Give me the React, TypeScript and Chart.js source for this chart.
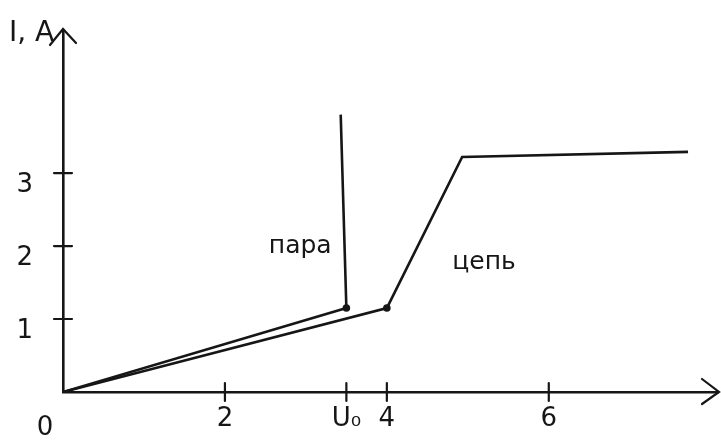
import React, { useEffect, useRef } from "react";
import { Chart, registerables } from "chart.js";

Chart.register(...registerables);

// Voltage axis (U) ticks and their labels
const xTickValues = [0, 2, 3.5, 4, 6];
const xTickLabels = ["", "2", "U₀", "4", "6"];
// Current axis (I, A) ticks
const yTickValues = [1, 2, 3];
const yTickLabels = ["1", "2", "3"];

// "пара" curve: (U, I) points
const paraU = [0, 3.5, 3.43];
const paraI = [0, 1.15, 3.8];
// "цепь" curve: (U, I) points
const chainU = [0, 4.0, 4.93, 7.72];
const chainI = [0, 1.15, 3.22, 3.29];

// Curve captions and where they sit (data coordinates)
const captions = [
  { text: "пара", u: 2.93, i: 2.0 },
  { text: "цепь", u: 5.2, i: 1.78 },
];

const INK = "#161616";
const FONT = "'DejaVu Sans', sans-serif";

const sketchPlugin = {
  id: "sketchAxes",
  afterDraw(chart: any) {
    const { ctx, chartArea } = chart;
    const xs = chart.scales.x;
    const ys = chart.scales.y;
    const x0 = xs.getPixelForValue(0);
    const y0 = ys.getPixelForValue(0);
    ctx.save();
    ctx.strokeStyle = INK;
    ctx.lineWidth = 2.2;
    ctx.lineCap = "round";
    // crossing tick marks
    xTickValues.forEach((v) => {
      if (v === 0) return;
      const px = xs.getPixelForValue(v);
      ctx.beginPath();
      ctx.moveTo(px, y0 - 9);
      ctx.lineTo(px, y0 + 9);
      ctx.stroke();
    });
    yTickValues.forEach((v) => {
      const py = ys.getPixelForValue(v);
      ctx.beginPath();
      ctx.moveTo(x0 - 9, py);
      ctx.lineTo(x0 + 9, py);
      ctx.stroke();
    });
    // arrow heads
    const top = chartArea.top;
    ctx.beginPath();
    ctx.moveTo(x0 - 13, top + 15);
    ctx.lineTo(x0, top - 1);
    ctx.lineTo(x0 + 13, top + 13);
    ctx.stroke();
    const right = chartArea.right;
    ctx.beginPath();
    ctx.moveTo(right - 16, y0 - 13);
    ctx.lineTo(right + 1, y0);
    ctx.lineTo(right - 16, y0 + 12);
    ctx.stroke();
    // axis title and origin label
    ctx.fillStyle = INK;
    ctx.font = `28px ${FONT}`;
    ctx.textAlign = "left";
    ctx.textBaseline = "middle";
    ctx.fillText("I, A", x0 - 54, top + 4);
    ctx.font = `26px ${FONT}`;
    ctx.textAlign = "center";
    ctx.fillText("0", x0 - 18, y0 + 36);
    // curve captions
    ctx.font = `25px ${FONT}`;
    captions.forEach((c) => {
      ctx.fillText(c.text, xs.getPixelForValue(c.u), ys.getPixelForValue(c.i));
    });
    ctx.restore();
  },
};

export default function App() {
  const ref = useRef<HTMLCanvasElement | null>(null);

  useEffect(() => {
    if (!ref.current) return;
    const chart = new Chart(ref.current, {
      type: "scatter",
      data: {
        datasets: [
          {
            label: "пара",
            data: paraU.map((u, k) => ({ x: u, y: paraI[k] })),
            showLine: true,
            borderColor: INK,
            backgroundColor: INK,
            borderWidth: 2.6,
            pointRadius: [0, 2.5, 0],
            tension: 0,
          },
          {
            label: "цепь",
            data: chainU.map((u, k) => ({ x: u, y: chainI[k] })),
            showLine: true,
            borderColor: INK,
            backgroundColor: INK,
            borderWidth: 2.6,
            pointRadius: [0, 2.5, 0, 0],
            tension: 0,
          },
        ],
      },
      plugins: [sketchPlugin],
      options: {
        responsive: false,
        animation: false,
        layout: { padding: { top: 30, right: 3, left: 0, bottom: 0 } },
        plugins: { legend: { display: false }, tooltip: { enabled: false } },
        scales: {
          x: {
            type: "linear",
            min: 0,
            max: 8.09,
            grid: { display: false, drawTicks: false },
            border: { display: true, color: INK, width: 2.6 },
            afterBuildTicks: (scale: any) => {
              scale.ticks = xTickValues.map((v) => ({ value: v }));
            },
            afterFit: (scale: any) => {
              scale.height = 49;
              scale.paddingLeft = 0;
              scale.paddingRight = 0;
            },
            ticks: {
              padding: 12,
              color: INK,
              font: { family: FONT, size: 26 },
              maxRotation: 0,
              autoSkip: false,
              callback: (_v: any, i: number) => xTickLabels[i],
            },
          },
          y: {
            type: "linear",
            min: 0,
            max: 4.96,
            grid: { display: false, drawTicks: false },
            border: { display: true, color: INK, width: 2.6 },
            afterBuildTicks: (scale: any) => {
              scale.ticks = yTickValues.map((v) => ({ value: v }));
            },
            afterFit: (scale: any) => {
              scale.width = 63;
              scale.paddingTop = 0;
              scale.paddingBottom = 0;
            },
            ticks: {
              padding: 30,
              labelOffset: 12,
              color: INK,
              font: { family: FONT, size: 26 },
              autoSkip: false,
              callback: (_v: any, i: number) => yTickLabels[i],
            },
          },
        },
      },
    });
    return () => chart.destroy();
  }, []);

  return (
    <div style={{ position: "fixed", left: 0, top: 0, width: 721, height: 441, background: "#fff" }}>
      <canvas ref={ref} width={721} height={441} style={{ width: 721, height: 441 }} />
    </div>
  );
}
